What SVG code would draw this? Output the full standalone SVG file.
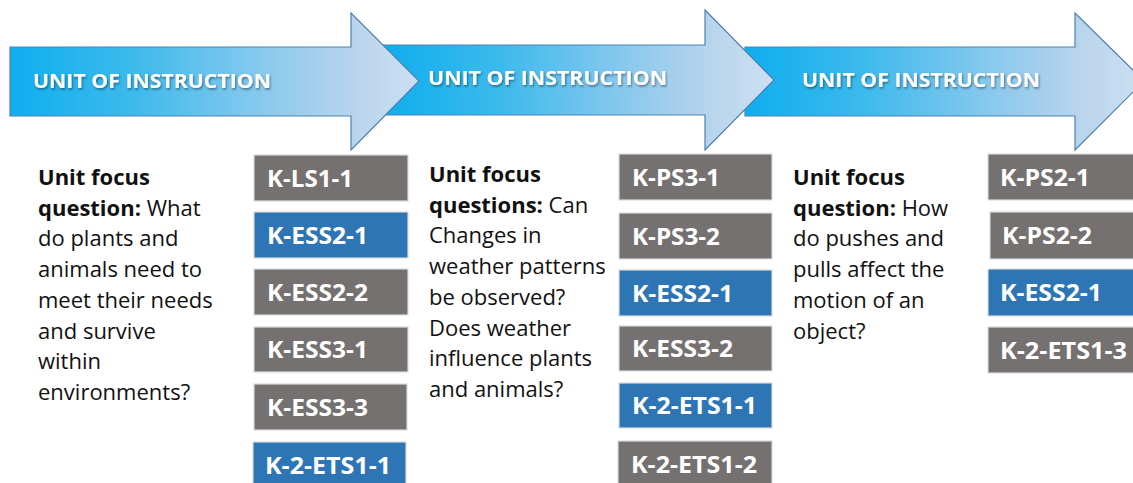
<svg xmlns="http://www.w3.org/2000/svg" width="1133" height="483" viewBox="0 0 1133 483">
<defs>
<linearGradient id="g1" gradientUnits="userSpaceOnUse" x1="10" y1="0" x2="420" y2="0">
<stop offset="0" stop-color="#0FAEEE"/><stop offset="0.3" stop-color="#3DBAEC"/><stop offset="0.6" stop-color="#85C8EE"/><stop offset="0.85" stop-color="#BBD5EC"/><stop offset="1" stop-color="#CCE0F3"/>
</linearGradient>
<linearGradient id="g2" gradientUnits="userSpaceOnUse" x1="385" y1="0" x2="775" y2="0">
<stop offset="0" stop-color="#0FAEEE"/><stop offset="0.3" stop-color="#3DBAEC"/><stop offset="0.6" stop-color="#85C8EE"/><stop offset="0.85" stop-color="#BBD5EC"/><stop offset="1" stop-color="#CCE0F3"/>
</linearGradient>
<linearGradient id="g3" gradientUnits="userSpaceOnUse" x1="745" y1="0" x2="1144" y2="0">
<stop offset="0" stop-color="#0FAEEE"/><stop offset="0.3" stop-color="#3DBAEC"/><stop offset="0.6" stop-color="#85C8EE"/><stop offset="0.85" stop-color="#BBD5EC"/><stop offset="1" stop-color="#CCE0F3"/>
</linearGradient>
<filter id="sh" x="-5%" y="-30%" width="110%" height="160%">
<feDropShadow dx="1" dy="1.5" stdDeviation="0.8" flood-color="#000" flood-opacity="0.45"/>
</filter>
</defs>
<style>
.arrow{stroke:#4F81B0;stroke-width:1.2;stroke-linejoin:miter}
.ah{font-family:"Open Sans","Liberation Sans",sans-serif;font-weight:700;font-size:20px;fill:#fff;filter:url(#sh)}
.p{font-family:"Open Sans","Liberation Sans",sans-serif;font-size:22px;fill:#111}
.b{font-weight:700}
.box{stroke:#DADADA;stroke-width:1.2}
.grey{fill:#767171}
.blue{fill:#2E75B6}
.lbl{font-family:"Open Sans","Liberation Sans",sans-serif;font-weight:700;font-size:22.5px;fill:#fff}
</style>
<g id="arrows">
<g id="arrow3">
<polygon class="arrow" fill="url(#g3)" points="745,47 1075,47 1075,13 1144,81 1075,150 1075,116 745,116"/>
<text class="ah" x="802" y="87" textLength="238" lengthAdjust="spacingAndGlyphs">UNIT OF INSTRUCTION</text>
</g>
<g id="arrow2">
<polygon class="arrow" fill="url(#g2)" points="382,45 705,45 705,10 774,80 705,150 705,115 382,115"/>
<text class="ah" x="428" y="85" textLength="239" lengthAdjust="spacingAndGlyphs">UNIT OF INSTRUCTION</text>
</g>
<g id="arrow1">
<polygon class="arrow" fill="url(#g1)" points="10,47 351,47 351,13 419,81 351,150 351,116 10,116"/>
<text class="ah" x="33" y="88" textLength="238" lengthAdjust="spacingAndGlyphs">UNIT OF INSTRUCTION</text>
</g>
</g>
<g id="question1" class="p">
<text x="38" y="185" class="b">Unit focus</text>
<text x="38" y="215.7"><tspan class="b">question:</tspan> What</text>
<text x="38" y="246.4">do plants and</text>
<text x="38" y="277.1">animals need to</text>
<text x="38" y="307.8">meet their needs</text>
<text x="38" y="338.5">and survive</text>
<text x="38" y="369.2">within</text>
<text x="38" y="399.9">environments?</text>
</g>
<g id="question2" class="p">
<text x="429" y="182" class="b">Unit focus</text>
<text x="429" y="212.7"><tspan class="b">questions:</tspan> Can</text>
<text x="429" y="243.4">Changes in</text>
<text x="429" y="274">weather patterns</text>
<text x="429" y="304.8">be observed?</text>
<text x="429" y="335.5">Does weather</text>
<text x="429" y="366.2">influence plants</text>
<text x="429" y="396.9">and animals?</text>
</g>
<g id="question3" class="p">
<text x="793" y="185" class="b">Unit focus</text>
<text x="793" y="215.7"><tspan class="b">question:</tspan> How</text>
<text x="793" y="246.4">do pushes and</text>
<text x="793" y="277">pulls affect the</text>
<text x="793" y="307.8">motion of an</text>
<text x="793" y="338.5">object?</text>
</g>
<g id="col1">
<g id="c1b1"><rect class="box grey" x="254" y="155" width="154" height="46"/><text class="lbl" x="267" y="187" textLength="86" lengthAdjust="spacingAndGlyphs">K-LS1-1</text></g>
<g id="c1b2"><rect class="box blue" x="254" y="212" width="154" height="46"/><text class="lbl" x="267" y="244" textLength="101" lengthAdjust="spacingAndGlyphs">K-ESS2-1</text></g>
<g id="c1b3"><rect class="box grey" x="254" y="269" width="154" height="46"/><text class="lbl" x="267" y="301" textLength="101" lengthAdjust="spacingAndGlyphs">K-ESS2-2</text></g>
<g id="c1b4"><rect class="box grey" x="254" y="327" width="154" height="45"/><text class="lbl" x="267" y="358" textLength="101" lengthAdjust="spacingAndGlyphs">K-ESS3-1</text></g>
<g id="c1b5"><rect class="box grey" x="254" y="384" width="153" height="46"/><text class="lbl" x="267" y="416" textLength="101" lengthAdjust="spacingAndGlyphs">K-ESS3-3</text></g>
<g id="c1b6"><rect class="box blue" x="253" y="442" width="153" height="46"/><text class="lbl" x="265" y="474" textLength="126" lengthAdjust="spacingAndGlyphs">K-2-ETS1-1</text></g>
</g>
<g id="col2">
<g id="c2b1"><rect class="box grey" x="619" y="154" width="153" height="46"/><text class="lbl" x="632" y="186" textLength="88" lengthAdjust="spacingAndGlyphs">K-PS3-1</text></g>
<g id="c2b2"><rect class="box grey" x="619" y="213" width="153" height="46"/><text class="lbl" x="632" y="245" textLength="88" lengthAdjust="spacingAndGlyphs">K-PS3-2</text></g>
<g id="c2b3"><rect class="box blue" x="619" y="270" width="153" height="46"/><text class="lbl" x="632" y="302" textLength="101" lengthAdjust="spacingAndGlyphs">K-ESS2-1</text></g>
<g id="c2b4"><rect class="box grey" x="619" y="326" width="153" height="45"/><text class="lbl" x="632" y="357" textLength="101" lengthAdjust="spacingAndGlyphs">K-ESS3-2</text></g>
<g id="c2b5"><rect class="box blue" x="619" y="383" width="153" height="45"/><text class="lbl" x="632" y="414" textLength="125" lengthAdjust="spacingAndGlyphs">K-2-ETS1-1</text></g>
<g id="c2b6"><rect class="box grey" x="618" y="441" width="154" height="46"/><text class="lbl" x="631" y="473" textLength="126" lengthAdjust="spacingAndGlyphs">K-2-ETS1-2</text></g>
</g>
<g id="col3">
<g id="c3b1"><rect class="box grey" x="988" y="154" width="150" height="46"/><text class="lbl" x="1000" y="186" textLength="90" lengthAdjust="spacingAndGlyphs">K-PS2-1</text></g>
<g id="c3b2"><rect class="box grey" x="990" y="212" width="148" height="47"/><text class="lbl" x="1002" y="244" textLength="90" lengthAdjust="spacingAndGlyphs">K-PS2-2</text></g>
<g id="c3b3"><rect class="box blue" x="988" y="269" width="150" height="47"/><text class="lbl" x="1000" y="301" textLength="102" lengthAdjust="spacingAndGlyphs">K-ESS2-1</text></g>
<g id="c3b4"><rect class="box grey" x="988" y="327" width="150" height="46"/><text class="lbl" x="1000" y="359" textLength="127" lengthAdjust="spacingAndGlyphs">K-2-ETS1-3</text></g>
</g>
</svg>
